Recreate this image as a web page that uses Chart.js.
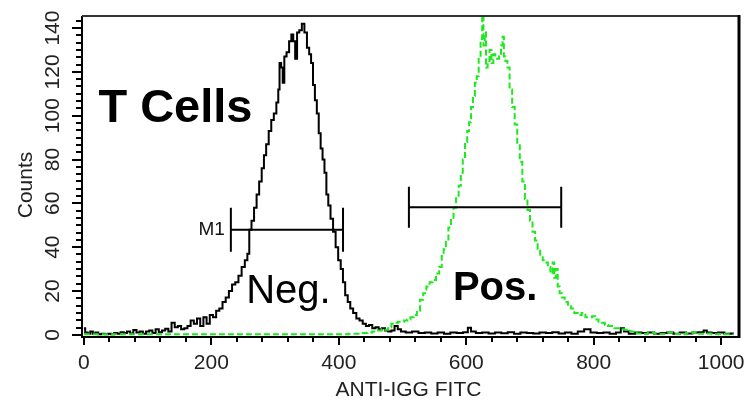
<!DOCTYPE html>
<html><head><meta charset="utf-8">
<script src="https://cdn.jsdelivr.net/npm/chart.js@4"></script>
<style>html,body{margin:0;padding:0;background:#fff}#wrap{width:752px;height:404px;position:relative}</style>
</head><body><div id="wrap"><canvas id="c"></canvas></div>
<script>
// Negative (black, solid) histogram: channel -> counts
const negX = [0,4,8,12,16,20,25,30,35,40,45,50,55,60,65,70,75,80,85,90,95,100,105,110,115,120,125,130,135,140,145,150,155,160,165,170,175,180,185,190,195,200,205,210,215,220,225,230,235,240,245,250,255,258,261,265,269,273,277,281,284,288,292,296,300,304,306,308,311,313,316,320,324,327,330,333,336,340,344,348,352,355,358,361,364,367,370,373,376,379,382,385,389,393,397,401,405,408,412,416,420,425,430,435,440,445,450,455,460,465,470,475,480,485,490,495,500,510,520,530,540,550,560,570,580,590,600,605,610,620,630,640,650,660,670,680,690,700,710,720,730,740,750,760,770,780,790,800,810,820,830,840,845,850,860,870,880,890,900,910,920,930,940,950,960,970,975,980,990,1000,1010,1020];
const negY = [3,1,0.5,1.5,0.5,1,0.3,0.5,0.2,0.5,0.3,0.8,0.5,1.2,0.8,1.5,0.6,2.2,1,1.5,0.5,1.5,2,0.8,2.5,1.2,2,2.8,1.5,5.5,3.5,4,2.5,3,4,6.5,5,7.5,4,8,5,9,8,11,12,15,17,20,23,24,27,31,34,37,48,52,58,64,70,76,82,87,93,98,101,106,112,124,122,115,127,129,134,137,134,126,138,139,142,138,131,128,124,114,107,101,92,85,80,74,64,59,53,47,40,34,30,24,18,15,12,10,7.5,6.5,5,4,4.5,3,3.5,2.5,3,2,1.5,2,4,2.5,1.5,1,1.5,0.8,1,0.6,1,0.5,1,0.8,1.2,3.2,1.5,0.8,1,0.6,1,0.7,1.2,0.5,1,0.8,0.6,1,0.8,1.2,0.6,1,0.5,1.5,2.5,1,0.8,1,0.5,1,3,1.5,0.5,1,0.8,1,0.5,0.8,1,0.5,1,0.6,1,1.2,2,1,0.8,1,0.5,0.6];
// Positive (green, dashed) histogram
const posX = [0,50,100,150,200,250,300,350,400,430,440,450,455,460,465,470,475,480,485,490,495,500,505,510,515,520,525,530,535,540,545,550,555,560,563,566,570,574,578,582,586,590,593,596,600,603,606,609,612,615,618,621,624,626,628,630,632,635,638,641,644,647,650,653,656,658,660,663,666,670,674,678,682,686,690,694,698,702,706,710,714,718,722,726,730,734,737,739,742,745,748,752,757,762,767,772,778,784,790,795,800,805,810,815,820,825,830,835,840,845,850,855,860,865,870,880,890,900,910,920,930,940,950,960,970,980,990,1000,1010,1020];
const posY = [0.3,0.3,0.3,0.3,0.3,0.3,0.3,0.3,0.3,0.5,0.8,1,1.5,2,2,2.5,2.3,3.5,5,5.5,6,6,6.5,7,8,9,11,16,19,22,24,25,28,31,36,39,43,49,53,58,63,68,74,80,88,93,97,104,109,115,118,126,135,146,132,138,122,125,130,124,128,126,126,127,132,136,127,125,122,112,104,96,87,79,70,62,57,52,47,43,39,36,34,33,31,28,33,26,30,22,19,17,15,13,12,10,9,10,8,8,8.5,7,6,5.5,4.5,4,4,3,3,2.5,2.3,1.8,1.5,1,0.6,0.4,1,0.5,0.4,1,0.4,0.3,0.8,1.2,0.5,0.6,0.3,0.4,0.3,0.3];

const xTickValues = [0,200,400,600,800,1000];
const xTickLabels = ['0','200','400','600','800','1000'];
const yTickValues = [0,20,40,60,80,100,120,140];
const yTickLabels = ['0','20','40','60','80','100','120','140'];
const xTitle = 'ANTI-IGG FITC';
const yTitle = 'Counts';
// gate markers (data units)
const gateM1 = {x1: 230.6, x2: 406.6, y: 48, label: 'M1'};
const gatePos = {x1: 510, x2: 749, y: 58.2};
// text annotations (data units)
const notes = [
  {text: 'T Cells', x: 22.7, y: 97, font: 'bold 47px "Liberation Sans", Arial, sans-serif'},
  {text: 'Neg.', x: 254.6, y: 14.6, font: '40px "Liberation Sans", Arial, sans-serif'},
  {text: 'Pos.', x: 579, y: 16, font: 'bold 40px "Liberation Sans", Arial, sans-serif'}
];

const FONT = '"Liberation Sans", Arial, sans-serif';

const decor = {
  id: 'decor',
  afterDatasetsDraw(chart) {
    const ctx = chart.ctx, a = chart.chartArea;
    const xs = chart.scales.x, ys = chart.scales.y;
    ctx.save();
    // frame
    ctx.strokeStyle = '#000';
    ctx.lineWidth = 2;
    ctx.beginPath();
    ctx.moveTo(a.left, a.top); ctx.lineTo(a.left, a.bottom); ctx.lineTo(a.right, a.bottom);
    ctx.stroke();
    ctx.strokeStyle = '#333';
    ctx.beginPath(); ctx.moveTo(a.left, a.top); ctx.lineTo(a.right, a.top); ctx.stroke();
    ctx.strokeStyle = '#000'; ctx.lineWidth = 3;
    ctx.beginPath(); ctx.moveTo(a.right, a.top - 1); ctx.lineTo(a.right, a.bottom + 1); ctx.stroke();
    // x ticks
    ctx.lineWidth = 2; ctx.strokeStyle = '#000';
    ctx.beginPath();
    for (let v = 0; v <= 1000; v += 40) {
      const px = Math.round(xs.getPixelForValue(v));
      const major = v % 200 === 0;
      ctx.moveTo(px, a.bottom); ctx.lineTo(px, a.bottom + (major ? 8 : 5));
    }
    for (let i = 0; i <= 43; i++) {
      const v = i * 20 / 6;
      const py = Math.round(ys.getPixelForValue(v));
      const major = i % 6 === 0;
      ctx.moveTo(a.left, py); ctx.lineTo(a.left - (major ? 10 : 6), py);
    }
    ctx.stroke();
    // tick labels
    ctx.fillStyle = '#222';
    ctx.font = '21px ' + FONT;
    ctx.textAlign = 'center'; ctx.textBaseline = 'middle';
    xTickValues.forEach((v, i) => {
      ctx.fillText(xTickLabels[i], xs.getPixelForValue(v), a.bottom + 26);
    });
    yTickValues.forEach((v, i) => {
      ctx.save();
      ctx.translate(a.left - 29, ys.getPixelForValue(v));
      ctx.rotate(-Math.PI / 2);
      ctx.fillText(yTickLabels[i], 0, 0);
      ctx.restore();
    });
    // titles
    ctx.font = '21px ' + FONT;
    ctx.fillText(xTitle, (a.left + a.right) / 2 - 2, a.bottom + 53);
    ctx.save();
    ctx.translate(26, 185);
    ctx.rotate(-Math.PI / 2);
    ctx.fillText(yTitle, 0, 0);
    ctx.restore();
    // gates
    ctx.strokeStyle = '#000'; ctx.lineWidth = 2;
    [[gateM1, 22], [gatePos, 20.5]].forEach(([g, h]) => {
      const x1 = xs.getPixelForValue(g.x1), x2 = xs.getPixelForValue(g.x2), y = ys.getPixelForValue(g.y);
      ctx.beginPath();
      ctx.moveTo(x1, y); ctx.lineTo(x2, y);
      ctx.moveTo(x1, y - h); ctx.lineTo(x1, y + h);
      ctx.moveTo(x2, y - h); ctx.lineTo(x2, y + h);
      ctx.stroke();
    });
    ctx.fillStyle = '#111';
    ctx.font = '19px ' + FONT;
    ctx.textAlign = 'right';
    ctx.fillText(gateM1.label, xs.getPixelForValue(gateM1.x1) - 6, ys.getPixelForValue(gateM1.y));
    // notes
    ctx.fillStyle = '#000';
    ctx.textAlign = 'left'; ctx.textBaseline = 'alphabetic';
    notes.forEach(n => {
      ctx.font = n.font;
      ctx.fillText(n.text, xs.getPixelForValue(n.x), ys.getPixelForValue(n.y));
    });
    ctx.restore();
  }
};

new Chart(document.getElementById('c'), {
  type: 'line',
  data: {
    datasets: [
      {label: 'Pos.', data: posX.map((x, i) => ({x, y: posY[i]})), borderColor: '#1ee81e', borderWidth: 2, borderDash: [6, 3], pointRadius: 0, stepped: 'middle', fill: false},
      {label: 'Neg.', data: negX.map((x, i) => ({x, y: negY[i]})), borderColor: '#000', borderWidth: 2, pointRadius: 0, stepped: 'middle', fill: false}
    ]
  },
  options: {
    responsive: true, maintainAspectRatio: false, animation: false,
    layout: {padding: {left: 82, right: 13, top: 16, bottom: 67}},
    plugins: {legend: {display: false}, tooltip: {enabled: false}},
    scales: {
      x: {type: 'linear', min: -3, max: 1028, display: false},
      y: {type: 'linear', min: -1, max: 145.5, display: false}
    }
  },
  plugins: [decor]
});
</script>
</body></html>
